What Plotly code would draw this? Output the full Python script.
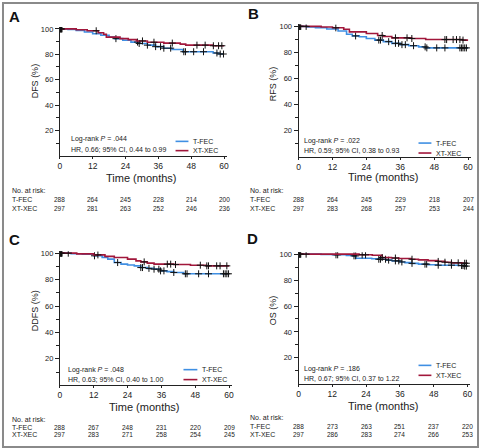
import numpy as np
import plotly.graph_objects as go

W, H = 481, 448
BLUE = "#3f8fe3"
RED = "#a1173b"
FONT = "Liberation Sans Narrow, Liberation Sans, Arial"

ticks_x = [0, 12, 24, 36, 48, 60]

# ---------- Panel A: DFS ----------
a_fec_t = [0, 3, 6, 9, 12, 15, 18, 20, 23, 26, 29, 32, 35, 38, 41, 45, 56, 58, 60]
a_fec_s = [100, 99.6, 98.8, 97.5, 96.2, 95.0, 93.5, 92.3, 91.0, 89.6, 88.5, 87.2, 86.0, 84.8, 83.8, 82.0, 81.0, 80.2, 80.2]
a_xec_t = [0, 6, 10, 14, 16, 17, 22, 25, 28, 32, 38, 44, 46, 56, 60]
a_xec_s = [100, 99.3, 98.5, 97.0, 95.8, 93.5, 92.3, 91.5, 90.5, 89.5, 88.8, 88.0, 87.2, 86.7, 86.7]
a_fec_c = [0.2, 0.5, 0.8, 20.5, 28.4, 29.0, 32.0, 35.0, 36.8, 38.0, 40.5, 45.3, 45.9, 48.9, 52.5, 57.4, 58.6, 59.8]
a_xec_c = [0.3, 0.6, 13.3, 30.2, 34.4, 41.1, 50.1, 53.1, 56.1, 58.0, 59.2]
a_risk_fec = [288, 264, 245, 228, 214, 200]
a_risk_xec = [297, 281, 263, 252, 246, 236]

# ---------- Panel B: RFS ----------
b_fec_t = [0, 3, 6, 10, 14, 17, 19, 21.5, 24, 27, 30, 33, 36, 39, 42.5, 45, 60]
b_fec_s = [100, 99.5, 99.0, 98.0, 96.5, 94.0, 92.7, 92.0, 90.7, 89.5, 88.3, 87.0, 86.0, 85.2, 84.3, 83.5, 83.5]
b_xec_t = [0, 8, 12, 16, 18, 24, 28, 30, 33, 40, 45, 58, 60]
b_xec_s = [100, 99.5, 98.9, 97.8, 95.8, 94.5, 93.0, 92.3, 91.2, 90.7, 89.9, 89.5, 89.5]
b_fec_c = [0.2, 0.5, 0.8, 20.2, 28.4, 29.0, 31.9, 34.3, 35.4, 36.6, 37.8, 40.7, 44.8, 45.4, 48.9, 51.8, 57.1, 57.7, 58.2, 58.8, 59.4]
b_xec_c = [0.3, 0.6, 2.7, 13.2, 29.6, 34.3, 38.4, 40.1, 51.8, 52.4, 54.7, 55.9, 57.1, 58.2]
b_risk_fec = [288, 264, 245, 229, 218, 207]
b_risk_xec = [297, 283, 268, 257, 253, 244]

# ---------- Panel C: DDFS ----------
c_fec_t = [0, 4, 8, 12, 15, 17, 19.3, 21.7, 24, 26.4, 28.7, 31, 33.4, 35.7, 38, 40.4, 43.9, 60]
c_fec_s = [100, 99.6, 99.2, 98.0, 96.8, 95.5, 92.9, 91.7, 91.0, 90.4, 89.1, 88.5, 87.9, 86.6, 86.0, 85.4, 84.4, 84.4]
c_xec_t = [0, 6, 12, 16, 19.3, 24, 27, 28.7, 31, 33.4, 40.4, 46.3, 52, 60]
c_xec_s = [100, 99.5, 98.7, 97.6, 96.7, 95.5, 94.2, 93.4, 92.5, 91.7, 91.4, 90.9, 90.4, 90.4]
c_fec_c = [0.2, 0.5, 0.8, 12.3, 20.5, 28.7, 29.3, 31.6, 33.4, 35.1, 35.7, 36.9, 40.4, 44.5, 45.1, 49.2, 52.7, 58.0, 58.6, 59.2, 59.8]
c_xec_c = [0.3, 0.6, 3.0, 13.5, 29.9, 38.1, 39.3, 41.0, 49.8, 52.1, 52.7, 55.6, 56.8, 59.2]
c_risk_fec = [288, 267, 248, 231, 220, 209]
c_risk_xec = [297, 283, 271, 258, 254, 245]

# ---------- Panel D: OS ----------
d_fec_t = [0, 8, 12, 17, 19.1, 20.4, 26, 28.5, 31, 33.2, 36, 37.8, 40, 42.6, 46, 49.6, 57, 59, 60]
d_fec_s = [100, 99.7, 99.5, 99.0, 98.7, 96.9, 96.5, 96.1, 95.4, 94.8, 94.0, 93.5, 92.9, 92.3, 91.8, 91.5, 91.2, 90.8, 90.8]
d_xec_t = [0, 21.5, 26.2, 29.7, 33, 35.6, 40, 42.6, 46, 49.6, 52, 54.3, 58, 60]
d_xec_s = [100, 99.5, 99.2, 97.4, 97.0, 96.7, 96.1, 95.6, 95.0, 94.4, 93.8, 93.3, 93.0, 93.0]
d_fec_c = [0.2, 0.5, 0.8, 13.3, 13.9, 19.7, 20.3, 28.5, 29.1, 30.9, 32.0, 34.4, 35.6, 36.7, 40.3, 44.9, 45.5, 49.6, 54.3, 57.9, 58.4, 59.0, 59.6]
d_xec_c = [0.3, 0.6, 2.7, 22.6, 23.8, 29.7, 34.4, 40.3, 49.6, 52.0, 54.3, 56.7, 59.0, 59.6]
d_risk_fec = [288, 273, 263, 251, 237, 220]
d_risk_xec = [297, 286, 283, 274, 266, 253]

panels = [
    dict(letter="A", ylab="DFS (%)", p=".044", hr="HR, 0.66; 95% CI, 0.44 to 0.99",
         fec=(a_fec_t, a_fec_s, a_fec_c), xec=(a_xec_t, a_xec_s, a_xec_c),
         risk=(a_risk_fec, a_risk_xec),
         x0=58.3, xs=2.76, y0=154.5, ys=1.275,
         letter_xy=(13, 15), ylab_xy=(33, 79), title_y=177, nar_y=189, r1=198.3, r2=207,
         lr_x=68, lr_y=(138, 148), leg_x=(175, 188), leg_y=(140, 149.3), row_x=8),
    dict(letter="B", ylab="RFS (%)", p=".022", hr="HR, 0.59; 95% CI, 0.38 to 0.93",
         fec=(b_fec_t, b_fec_s, b_fec_c), xec=(b_xec_t, b_xec_s, b_xec_c),
         risk=(b_risk_fec, b_risk_xec),
         x0=299, xs=2.85, y0=155.5, ys=1.31,
         letter_xy=(254, 12), ylab_xy=(273, 82), title_y=176, nar_y=189, r1=198.3, r2=207.7,
         lr_x=302.7, lr_y=(139.3, 149.3), leg_x=(420, 433), leg_y=(141.7, 151.7), row_x=248),
    dict(letter="C", ylab="DDFS (%)", p=".048", hr="HR, 0.63; 95% CI, 0.40 to 1.00",
         fec=(c_fec_t, c_fec_s, c_fec_c), xec=(c_xec_t, c_xec_s, c_xec_c),
         risk=(c_risk_fec, c_risk_xec),
         x0=58.3, xs=2.845, y0=385, ys=1.327,
         letter_xy=(13, 239), ylab_xy=(33, 310), title_y=406.7, nar_y=419, r1=427.3, r2=434.5,
         lr_x=64.3, lr_y=(369.3, 379.3), leg_x=(183, 197), leg_y=(369.3, 379.3), row_x=8),
    dict(letter="D", ylab="OS (%)", p=".186", hr="HR, 0.67; 95% CI, 0.37 to 1.22",
         fec=(d_fec_t, d_fec_s, d_fec_c), xec=(d_xec_t, d_xec_s, d_xec_c),
         risk=(d_risk_fec, d_risk_xec),
         x0=299, xs=2.84, y0=383.5, ys=1.302,
         letter_xy=(253, 238), ylab_xy=(273, 310), title_y=405.7, nar_y=417.7, r1=426.7, r2=434.3,
         lr_x=302.7, lr_y=(368.3, 378.3), leg_x=(420, 433), leg_y=(365, 375), row_x=248),
]

XMAX = 61.0
YMAX = 101.5


def px(x):
    return x / W


def py(y):
    return 1 - y / H


def step_at(ts, ss, c):
    ts = np.asarray(ts)
    idx = np.searchsorted(ts, np.asarray(c), side="right") - 1
    return np.asarray(ss)[idx]


fig = go.Figure()
annotations = []
shapes = []
layout_axes = {}

for i, P in enumerate(panels, start=1):
    sfx = "" if i == 1 else str(i)
    xa, ya = "x" + sfx, "y" + sfx
    for (ts, ss, cs), col, name in [(P["fec"], BLUE, "T-FEC"), (P["xec"], RED, "XT-XEC")]:
        fig.add_trace(go.Scatter(x=ts, y=ss, mode="lines", line=dict(color=col, width=1.6, shape="hv"),
                                 name=name, showlegend=False, xaxis=xa, yaxis=ya, hoverinfo="skip"))
        fig.add_trace(go.Scatter(x=cs, y=step_at(ts, ss, cs), mode="markers",
                                 marker=dict(symbol="cross-thin", size=5, line=dict(width=1, color="#111")),
                                 showlegend=False, xaxis=xa, yaxis=ya, hoverinfo="skip"))

    xd = [px(P["x0"]), px(P["x0"] + XMAX * P["xs"])]
    yd = [py(P["y0"]), py(P["y0"] - YMAX * P["ys"])]
    axis_font = dict(family=FONT, size=8.5, color="#222")
    layout_axes["xaxis" + sfx] = dict(domain=xd, anchor=ya, range=[0, XMAX], tickvals=ticks_x,
                                      showline=True, linecolor="#222", linewidth=1, ticks="outside",
                                      ticklen=2, tickcolor="#222", showgrid=False, zeroline=False,
                                      tickfont=axis_font, fixedrange=True)
    layout_axes["yaxis" + sfx] = dict(domain=yd, anchor=xa, range=[0, YMAX], tickvals=[20, 40, 60, 80, 100],
                                      showline=True, linecolor="#222", linewidth=1, ticks="outside",
                                      ticklen=4, tickcolor="#222", showgrid=False, zeroline=False,
                                      tickfont=dict(family=FONT, size=7.5, color="#222"),
                                      minor=dict(tickvals=[10, 30, 50, 70, 90], ticks="outside", ticklen=3,
                                                 tickcolor="#222", showgrid=False),
                                      fixedrange=True)

    annotations.append(dict(x=px(P["letter_xy"][0]), y=py(P["letter_xy"][1]), xref="paper", yref="paper",
                            text="<b>%s</b>" % P["letter"], showarrow=False, xanchor="center", yanchor="middle",
                            font=dict(family="Liberation Sans, Arial", size=15, color="#111")))
    annotations.append(dict(x=px(P["ylab_xy"][0]), y=py(P["ylab_xy"][1]), xref="paper", yref="paper",
                            text=P["ylab"], textangle=-90, showarrow=False, xanchor="center", yanchor="middle",
                            font=dict(family=FONT, size=9, color="#222")))
    annotations.append(dict(x=30, y=py(P["title_y"]), xref=xa, yref="paper", text="Time (months)",
                            showarrow=False, xanchor="center", yanchor="middle",
                            font=dict(family=FONT, size=11, color="#222")))
    annotations.append(dict(x=px(P["lr_x"]), y=py(P["lr_y"][0]), xref="paper", yref="paper",
                            text="Log-rank <i>P</i> = %s" % P["p"], showarrow=False, xanchor="left",
                            yanchor="middle", font=dict(family=FONT, size=7, color="#222")))
    annotations.append(dict(x=px(P["lr_x"]), y=py(P["lr_y"][1]), xref="paper", yref="paper",
                            text=P["hr"], showarrow=False, xanchor="left",
                            yanchor="middle", font=dict(family=FONT, size=7, color="#222")))
    for ly, col, name in [(P["leg_y"][0], BLUE, "T-FEC"), (P["leg_y"][1], RED, "XT-XEC")]:
        shapes.append(dict(type="line", xref="paper", yref="paper", x0=px(P["leg_x"][0]), x1=px(P["leg_x"][1]),
                           y0=py(ly), y1=py(ly), line=dict(color=col, width=1.6)))
        annotations.append(dict(x=px(P["leg_x"][1] + 2.5), y=py(ly), xref="paper", yref="paper", text=name,
                                showarrow=False, xanchor="left", yanchor="middle",
                                font=dict(family=FONT, size=7, color="#222")))
    annotations.append(dict(x=px(P["row_x"]), y=py(P["nar_y"]), xref="paper", yref="paper", text="No. at risk:",
                            showarrow=False, xanchor="left", yanchor="middle",
                            font=dict(family=FONT, size=7, color="#222")))
    for ry, lab, vals in [(P["r1"], "T-FEC", P["risk"][0]), (P["r2"], "XT-XEC", P["risk"][1])]:
        annotations.append(dict(x=px(P["row_x"]), y=py(ry), xref="paper", yref="paper", text=lab,
                                showarrow=False, xanchor="left", yanchor="middle",
                                font=dict(family=FONT, size=7, color="#222")))
        for t, v in zip(ticks_x, vals):
            annotations.append(dict(x=t, y=py(ry), xref=xa, yref="paper", text=str(v), showarrow=False,
                                    xanchor="center", yanchor="middle",
                                    font=dict(family=FONT, size=6.5, color="#222")))

shapes.append(dict(type="rect", xref="paper", yref="paper", x0=px(1), x1=px(W - 1), y0=py(H - 1), y1=py(1),
                   line=dict(color="#8a8a8a", width=2)))

fig.update_layout(width=W, height=H, margin=dict(l=0, r=0, t=0, b=0), plot_bgcolor="white",
                  paper_bgcolor="white", showlegend=False, annotations=annotations, shapes=shapes,
                  **layout_axes)

fig.write_html("out.html", config={"displayModeBar": False},
               post_script="document.body.style.margin='0';document.body.style.overflow='hidden';")
